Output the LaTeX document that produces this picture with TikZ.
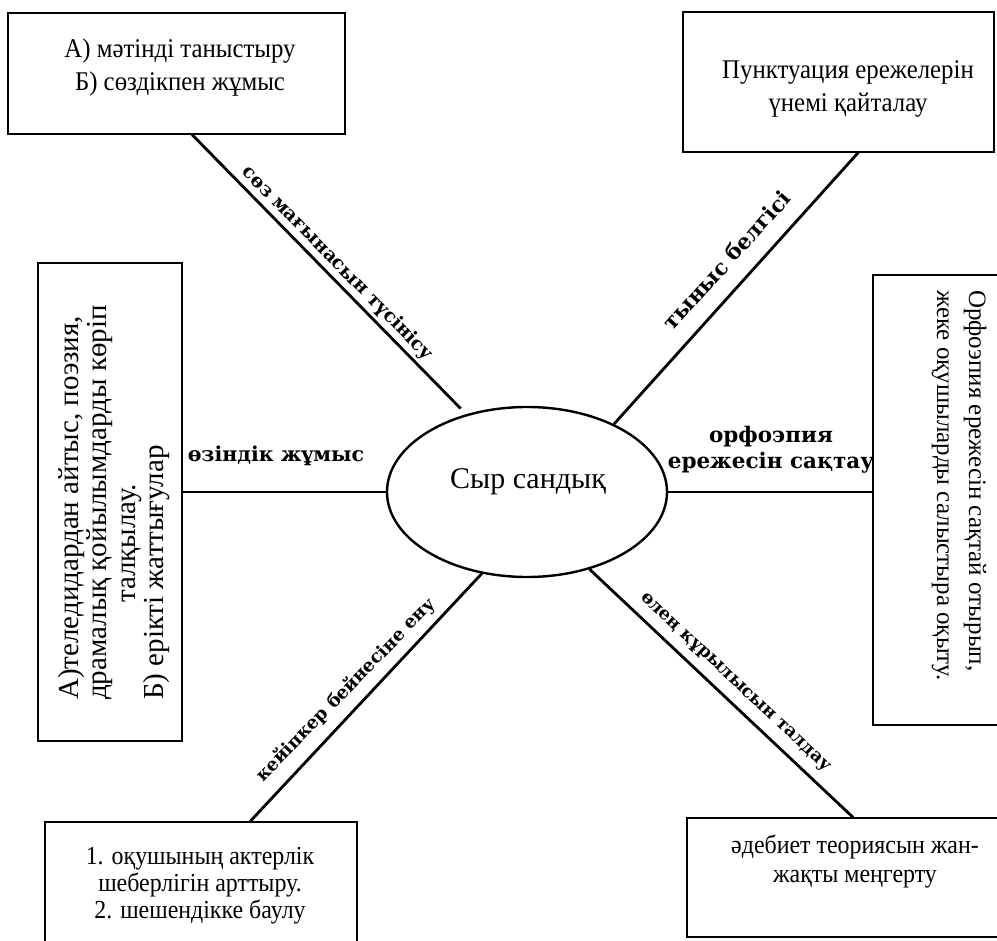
\documentclass[tikz,border=0pt]{standalone}
\usepackage{fontspec}
\setmainfont{Liberation Serif}
\newfontfamily\boxfont[FakeStretch=0.92]{Liberation Serif}
\newfontfamily\labfont{DejaVu Serif}
\usetikzlibrary{calc,shapes.geometric}
\begin{document}
\begin{tikzpicture}[x=1pt,y=-1pt,
  boxshape/.style={draw, line width=1.3pt, inner sep=0pt, rectangle},
  conn/.style={line width=2.8pt},
  lab/.style={font=\labfont\bfseries\fontsize{#1}{26}\selectfont, inner sep=0pt},
  btext/.style={font=\boxfont\fontsize{27}{33}\selectfont, align=center, inner sep=0pt},
  vtext/.style={font=\fontsize{29}{28.5}\selectfont, align=left, inner sep=0pt}]
\fill[white] (0,0) rectangle (997,941);
\useasboundingbox (0,0) rectangle (997,941);
% boxes
\node[boxshape, minimum width=337pt, minimum height=121pt] (tl) at (176.5,73.5) {};
\node[boxshape, minimum width=311pt, minimum height=140pt] (tr) at (838.5,82) {};
\node[boxshape, minimum width=144pt, minimum height=478pt] (lb) at (110,502) {};
\node[boxshape, minimum width=137pt, minimum height=450pt] (rb) at (941.5,500) {};
\node[boxshape, minimum width=312pt, minimum height=128pt] (bl) at (201,886) {};
\node[boxshape, minimum width=323pt, minimum height=119pt] (br) at (848.5,877.5) {};
% centre
\node[draw, ellipse, line width=2.4pt, minimum width=280pt, minimum height=170pt, inner sep=0pt] (ell) at (527,492) {};
\node[font=\fontsize{30}{34}\selectfont, inner sep=0pt] (ctext) at (528,482) {Сыр сандық};
% box texts
\node[btext] (tlt) at (180,68) {А) мәтінді таныстыру\\Б) сөздікпен жұмыс};
\node[btext] (trt) at (848,89) {Пунктуация ережелерін\\үнемі қайталау};
\node[btext, font=\boxfont\fontsize{26}{27}\selectfont] (blt) at (200,886) {1. оқушының актерлік\\шеберлігін арттыру.\\2. шешендікке баулу};
\node[btext, font=\boxfont\fontsize{26}{29}\selectfont] (brt) at (855,861) {әдебиет теориясын жан-\\жақты меңгерту};
\node[vtext, rotate=90, anchor=west] (lt) at (114,700) {А)теледидардан айтыс, поэзия,\\драмалық қойылымдарды көріп\\\hspace*{97pt}талқылау.\\Б) ерікті жаттығулар};
\node[vtext, font=\fontsize{25}{32}\selectfont, rotate=-90, anchor=west] (rt) at (959,290) {Орфоэпия ережесін сақтай отырып,\\жеке оқушыларды салыстыра оқыту.};
% connectors
\draw[conn, shorten >=8pt] ($(tl.south west)!0.546!(tl.south east)$) -- (ell.128);
\draw[conn] ($(tr.south west)!0.563!(tr.south east)$) -- (ell.38);
\draw[conn] (lb.east |- ell.west) -- (ell.west);
\draw[conn] (ell.east) -- (ell.east -| rb.west);
\draw[conn] ($(bl.north west)!0.657!(bl.north east)$) -- (ell.241.5);
\draw[conn] ($(br.north west)!0.514!(br.north east)$) -- (ell.-51.5);
% labels
\node[lab=18.8, rotate=-45.6] (l1) at (337.5,263.5) {сөз мағынасын түсінісу};
\node[lab=21.5, rotate=47.9] (l2) at (726.5,260) {тыныс белгісі};
\node[lab=20.5] (l3) at (276,456) {өзіндік жұмыс};
\node[lab=21.5, align=center] (l4) at (771,450) {орфоэпия\\ережесін сақтау};
\node[lab=18, rotate=45.8] (l5) at (346,690) {кейіпкер бейнесіне ену};
\node[lab=17.6, rotate=-43] (l6) at (735,683) {өлең құрылысын талдау};
\end{tikzpicture}
\end{document}
